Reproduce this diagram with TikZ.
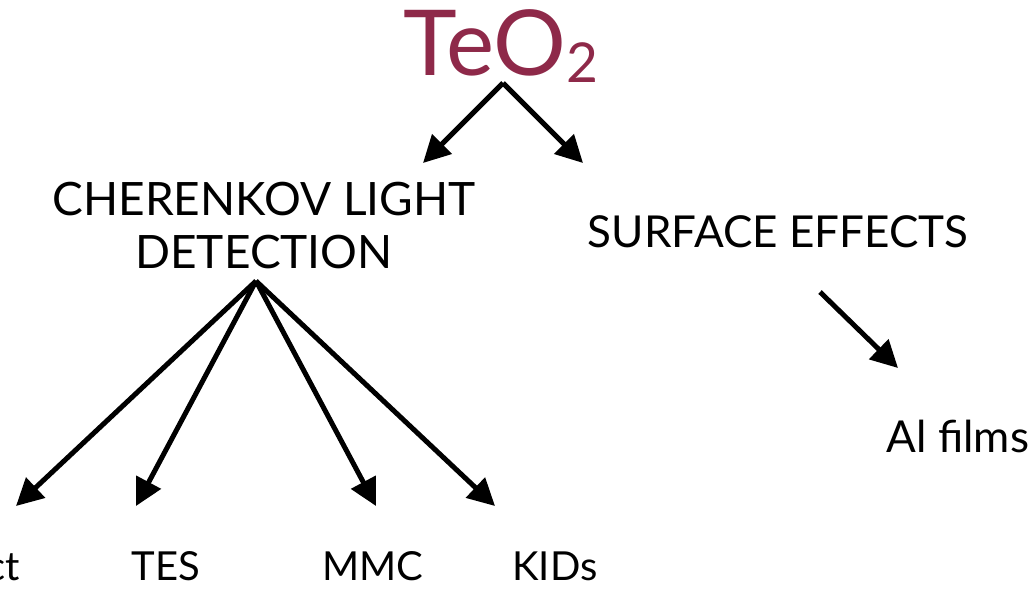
\documentclass[tikz,border=0pt]{standalone}
\usepackage{fontspec}
\setmainfont{Lato}
\usetikzlibrary{arrows.meta}
\definecolor{teored}{RGB}{142,41,73}
\tikzset{
  lbl/.style={inner sep=0pt, anchor=base, text=black},
  link/.style={line width=5pt, -{Triangle[length=27pt,width=27pt]}},
}
\newcommand{\fs}[1]{\fontsize{#1}{#1}\selectfont}
\begin{document}
\begin{tikzpicture}[x=1pt,y=-1pt]
\useasboundingbox (0,0) rectangle (1032,595);
\clip (0,0) rectangle (1032,595);

% title compound
\node[lbl, text=teored, font=\fs{91}] (teo) at (501,75)
  {TeO\raisebox{-7pt}{\fs{55}2}};

% first level
\node[lbl, font=\fs{46}, align=center] (cher) at (264,268)
  {CHERENKOV LIGHT\\[7pt]DETECTION};
\node[lbl, font=\fs{44}] (surf) at (778,247) {SURFACE EFFECTS};

% leaves
\node[lbl, font=\fs{44}] (al) at (958,452) {Al films};
\node[lbl, font=\fs{40}, anchor=base east] (direct) at (20,580) {ct};
\node[lbl, font=\fs{40}] (tes) at (166,580) {TES};
\node[lbl, font=\fs{40}] (mmc) at (373,580) {MMC};
\node[lbl, font=\fs{40}] (kids) at (555,580) {KIDs};

% connector ends
\coordinate (teo-out) at (503,83);
\coordinate (cher-in) at (423,163);
\coordinate (surf-in) at (583,163);
\coordinate (cher-out) at (256,281);
\coordinate (direct-in) at (16,506);
\coordinate (tes-in) at (136,506);
\coordinate (mmc-in) at (376,506);
\coordinate (kids-in) at (495,506);
\coordinate (surf-out) at (820,292);
\coordinate (al-in) at (898,368);

\draw[link] (teo-out) -- (cher-in);
\draw[link] (teo-out) -- (surf-in);
\draw[link] (cher-out) -- (direct-in);
\draw[link] (cher-out) -- (tes-in);
\draw[link] (cher-out) -- (mmc-in);
\draw[link] (cher-out) -- (kids-in);
\draw[link] (surf-out) -- (al-in);
\end{tikzpicture}
\end{document}
